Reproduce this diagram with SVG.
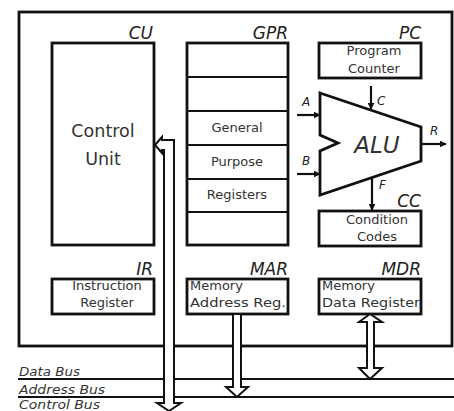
<svg xmlns="http://www.w3.org/2000/svg" width="454" height="411" viewBox="0 0 454 411">
<defs>
<style>
.box{fill:#fff;stroke:#111;stroke-width:2.8}
.line{stroke:#111;stroke-width:2.2;fill:none}
.hollow{fill:#fff;stroke:#111;stroke-width:2;stroke-linejoin:miter}
.lbl{font-family:"DejaVu Sans",sans-serif;font-style:italic;font-size:17px;fill:#222;text-anchor:end}
.txt{font-family:"DejaVu Sans",sans-serif;font-size:13px;fill:#333}
.mid{text-anchor:middle}
.big{font-family:"DejaVu Sans",sans-serif;font-size:17.5px;fill:#333;text-anchor:middle}
.pin{font-family:"DejaVu Sans",sans-serif;font-style:italic;font-size:12px;fill:#222}
.bus{font-family:"DejaVu Sans",sans-serif;font-style:italic;font-size:11.5px;fill:#333}
</style>
<marker id="ah" viewBox="0 0 10 10" refX="9" refY="5" markerWidth="7" markerHeight="7" markerUnits="userSpaceOnUse" orient="auto">
<path d="M0,0 L10,5 L0,10 z" fill="#111"/>
</marker>
</defs>
<rect width="454" height="411" fill="#fff"/>
<g id="cpu">
<rect x="19" y="12" width="433" height="334" class="box"/>
</g>
<g id="buses">
<line x1="18" y1="379" x2="454" y2="379" class="line"/>
<line x1="18" y1="397" x2="454" y2="397" class="line"/>
<text x="19" y="376" class="bus" textLength="61" lengthAdjust="spacingAndGlyphs">Data Bus</text>
<text x="19" y="394" class="bus" textLength="86" lengthAdjust="spacingAndGlyphs">Address Bus</text>
<text x="19" y="409" class="bus" textLength="81" lengthAdjust="spacingAndGlyphs">Control Bus</text>
</g>
<g id="cu">
<rect x="52" y="43" width="102" height="202" class="box"/>
<text x="153" y="39" class="lbl">CU</text>
<text x="103" y="137" class="big">Control</text>
<text x="103" y="165" class="big">Unit</text>
</g>
<g id="gpr">
<rect x="187" y="43" width="101" height="202" class="box"/>
<line x1="187" y1="77" x2="288" y2="77" class="line"/>
<line x1="187" y1="111" x2="288" y2="111" class="line"/>
<line x1="187" y1="145" x2="288" y2="145" class="line"/>
<line x1="187" y1="179" x2="288" y2="179" class="line"/>
<line x1="187" y1="212" x2="288" y2="212" class="line"/>
<text x="288" y="39" class="lbl">GPR</text>
<text x="237" y="132" class="txt mid">General</text>
<text x="237" y="166" class="txt mid">Purpose</text>
<text x="237" y="199" class="txt mid">Registers</text>
</g>
<g id="pc">
<rect x="319" y="43" width="102" height="35" class="box"/>
<text x="421" y="39" class="lbl">PC</text>
<text x="374" y="55" class="txt mid">Program</text>
<text x="374" y="73" class="txt mid">Counter</text>
</g>
<g id="alu">
<polygon points="320,93 421,127 421,161 320,195 320,151 338,143 320,135" class="box"/>
<text x="377" y="153" class="mid" style="font-family:'DejaVu Sans',sans-serif;font-style:italic;font-size:23px;fill:#333">ALU</text>
<text x="302" y="106" class="pin">A</text>
<text x="302" y="165" class="pin">B</text>
<text x="377" y="105" class="pin">C</text>
<text x="379" y="189" class="pin">F</text>
<text x="430" y="135" class="pin">R</text>
</g>
<g id="cc">
<rect x="319" y="211" width="102" height="35" class="box"/>
<text x="421" y="207" class="lbl">CC</text>
<text x="377" y="224" class="txt mid">Condition</text>
<text x="377" y="241" class="txt mid">Codes</text>
</g>
<g id="ir">
<rect x="52" y="279" width="102" height="35" class="box"/>
<text x="153" y="275" class="lbl">IR</text>
<text x="107" y="290" class="txt mid">Instruction</text>
<text x="107" y="307" class="txt mid">Register</text>
</g>
<g id="mar">
<rect x="187" y="279" width="101" height="35" class="box"/>
<text x="288" y="275" class="lbl">MAR</text>
<text x="190" y="290" class="txt">Memory</text>
<text x="190" y="307" class="txt" textLength="96" lengthAdjust="spacingAndGlyphs">Address Reg.</text>
</g>
<g id="mdr">
<rect x="319" y="279" width="102" height="35" class="box"/>
<text x="421" y="275" class="lbl">MDR</text>
<text x="322" y="290" class="txt">Memory</text>
<text x="322" y="307" class="txt" textLength="98" lengthAdjust="spacingAndGlyphs">Data Register</text>
</g>
<g id="connectors">
<line x1="297" y1="115" x2="320" y2="115" class="line" marker-end="url(#ah)"/>
<line x1="297" y1="174" x2="320" y2="174" class="line" marker-end="url(#ah)"/>
<line x1="371" y1="86" x2="371" y2="109" class="line" marker-end="url(#ah)"/>
<line x1="421" y1="144" x2="446" y2="144" class="line" marker-end="url(#ah)"/>
<line x1="372" y1="178" x2="372" y2="210" class="line" marker-end="url(#ah)"/>
<path d="M155,145 L162,137 L162,140 L174,140 L174,403 L181,403 L169,411 L157,403 L164,403 L164,150 L162,150 L162,153 Z" class="hollow"/>
<path d="M233,315 L233,387 L226,387 L237,397 L248,387 L241,387 L241,315" class="hollow"/>
<path d="M370,314 L359,322 L367,322 L367,368 L359,368 L370,379 L382,368 L374,368 L374,322 L382,322 Z" class="hollow"/>
</g>
</svg>
